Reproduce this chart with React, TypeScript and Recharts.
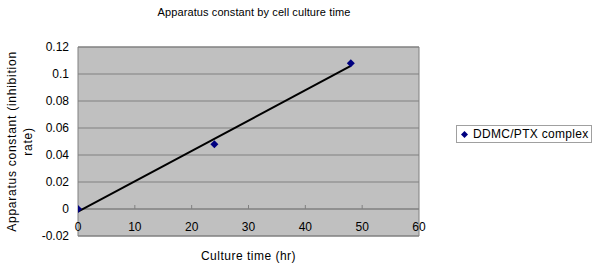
import {
  ComposedChart,
  Line,
  Scatter,
  XAxis,
  YAxis,
  CartesianGrid,
  ReferenceLine,
  ReferenceArea,
  Legend,
  Label,
} from 'recharts'

const times = [0, 24, 48]
const rates = [0, 0.048, 0.108]
// linear trendline endpoints
const trendTimes = [0, 48]
const trendRates = [-0.002, 0.106]
const xTicks = [0, 10, 20, 30, 40, 50, 60]
const yTicks = [-0.02, 0, 0.02, 0.04, 0.06, 0.08, 0.1, 0.12]

const SERIES_NAME = 'DDMC/PTX complex'
const FONT = '"Liberation Sans", Arial, sans-serif'
const GRID = '#808080'
const PLOT_BG = '#c0c0c0'
const MARKER = '#000080'

const points = times.map((t, i) => ({ t, v: rates[i] }))
const trend = trendTimes.map((t, i) => ({ t, v: trendRates[i] }))

const Y_MIN = -0.02
const Y_MAX = 0.12
const PLOT_TOP = 47
const PLOT_H = 189

// x ticks sit inside the plot, under the zero line (Excel style)
function XTick({ x, y, payload }: any) {
  const zeroY = y - (PLOT_H * (0 - Y_MIN)) / (Y_MAX - Y_MIN)
  return (
    <g>
      {payload.value !== 0 && payload.value !== 60 && (
        <line x1={x} x2={x} y1={zeroY} y2={zeroY - 4} stroke={GRID} />
      )}
      <text x={x} y={y - 5} textAnchor="middle" fontSize={12} fontFamily={FONT} fill="#000">
        {payload.value}
      </text>
    </g>
  )
}

function YLabel() {
  const cy = PLOT_TOP + PLOT_H / 2
  return (
    <text
      transform={`translate(12, ${cy}) rotate(-90)`}
      textAnchor="middle"
      fontSize={12}
      letterSpacing={0.75}
      fontFamily={FONT}
      fill="#000"
    >
      <tspan x={0} dy="0.35em">Apparatus constant (inhibition</tspan>
      <tspan x={0} dy={16}>rate)</tspan>
    </text>
  )
}

function Diamond({ cx, cy }: any) {
  return <polygon points={`${cx},${cy - 4} ${cx + 4},${cy} ${cx},${cy + 4} ${cx - 4},${cy}`} fill={MARKER} />
}

function LegendBox() {
  return (
    <div
      style={{
        border: '1px solid #a0a0a0',
        padding: '1px 3px 1px 4px',
        fontFamily: FONT,
        fontSize: 12,
        letterSpacing: 0.3,
        display: 'flex',
        alignItems: 'center',
        whiteSpace: 'nowrap',
        background: '#fff',
      }}
    >
      <svg width={7} height={7} style={{ marginRight: 5 }}>
        <polygon points="3.5,0 7,3.5 3.5,7 0,3.5" fill={MARKER} />
      </svg>
      {SERIES_NAME}
    </div>
  )
}

export default function App() {
  return (
    <div style={{ position: 'fixed', left: 0, top: 0, width: 600, height: 264, background: '#fff' }}>
      <div
        style={{
          position: 'absolute',
          left: 0,
          width: 508,
          top: 6,
          textAlign: 'center',
          fontFamily: FONT,
          fontSize: 11,
          letterSpacing: 0.1,
        }}
      >
        Apparatus constant by cell culture time
      </div>
      <ComposedChart
        width={600}
        height={264}
        margin={{ top: PLOT_TOP, right: 181, bottom: 0, left: 8 }}
      >
        <CartesianGrid vertical={false} stroke={GRID} fill={PLOT_BG} />
        <ReferenceArea
          x1={0}
          x2={60}
          y1={Y_MIN}
          y2={Y_MAX}
          fill="none"
          stroke={GRID}
          strokeWidth={1}
        />
        <ReferenceLine y={0} stroke={GRID} />
        <XAxis
          dataKey="t"
          type="number"
          domain={[0, 60]}
          ticks={xTicks}
          allowDataOverflow
          axisLine={false}
          tickLine={false}
          tickSize={0}
          tickMargin={0}
          height={28}
          tick={<XTick />}
          interval={0}
        >
          <Label
            value="Culture time (hr)"
            position="insideBottom"
            offset={4}
            fontSize={12}
            letterSpacing={0.5}
            fontFamily={FONT}
            fill="#000"
          />
        </XAxis>
        <YAxis
          type="number"
          domain={[Y_MIN, Y_MAX]}
          ticks={yTicks}
          allowDataOverflow
          width={70}
          axisLine={false}
          tickLine={false}
          tickMargin={3}
          interval={0}
          tick={{ fontSize: 12, fontFamily: FONT, fill: '#000' }}
          tickFormatter={(v: number) => String(Number(v.toFixed(2)))}
        >
          <Label content={<YLabel />} />
        </YAxis>
        <Line
          data={trend}
          dataKey="v"
          type="linear"
          stroke="#000"
          strokeWidth={2}
          dot={false}
          activeDot={false}
          legendType="none"
          isAnimationActive={false}
        />
        <Scatter
          data={points}
          dataKey="v"
          name={SERIES_NAME}
          fill={MARKER}
          shape={<Diamond />}
          legendType="diamond"
          isAnimationActive={false}
        />
        <Legend
          layout="vertical"
          align="center"
          verticalAlign="middle"
          content={<LegendBox />}
          wrapperStyle={{ left: 456, top: 125, width: 'auto' }}
        />
      </ComposedChart>
    </div>
  )
}
